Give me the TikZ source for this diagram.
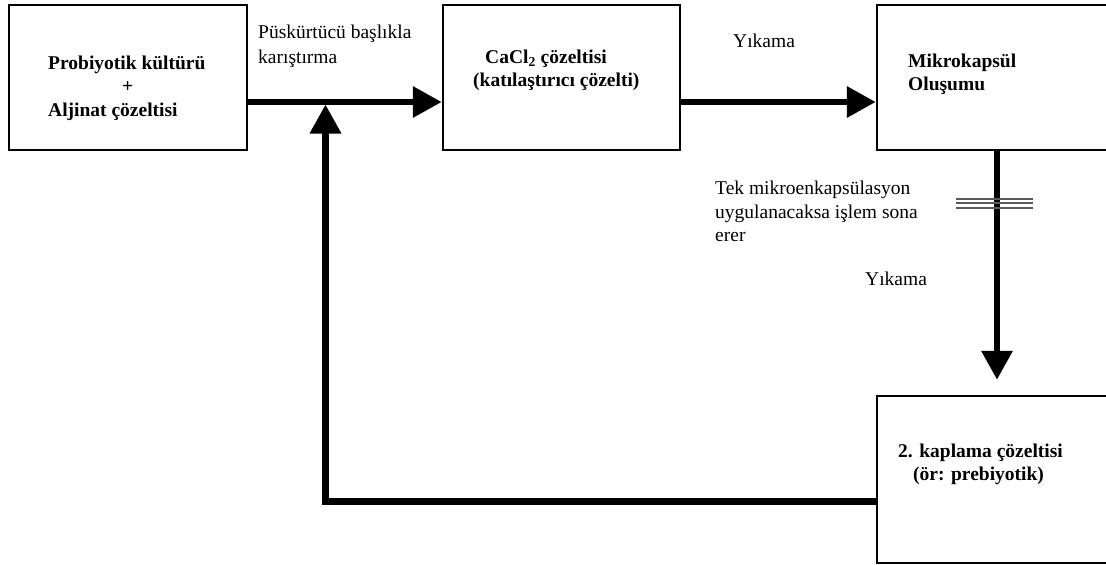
\documentclass[tikz,border=0pt]{standalone}
\usepackage{fontspec}
\setmainfont{Liberation Serif}
\usetikzlibrary{arrows.meta,positioning}

\begin{document}
\begin{tikzpicture}[
  x=1pt, y=-1pt,
  font=\fontsize{19.5}{23.5}\selectfont,
  box/.style={draw, line width=2.5pt, minimum height=145pt, inner sep=0pt},
  flow/.style={line width=6.5pt, -{Triangle[length=29pt, width=30pt]}},
  note/.style={align=left, inner sep=0pt, anchor=north west},
  boxtext/.style={note, font=\fontsize{19.5}{23.5}\selectfont\bfseries},
  cut/.style={line width=2pt, black!65}
]
\clip (0,0) rectangle (1106,565);

% process boxes
\node[box, minimum width=238pt] (alg) at (128,77.5) {};
\node[box, minimum width=237pt, right=193.5pt of alg] (cacl) {};
\node[box, minimum width=240pt, right=194.5pt of cacl] (kapsul) {};
\node[box, minimum width=240pt, minimum height=167pt, below=243.5pt of kapsul] (kaplama) {};

\node[boxtext] (algtext) at (48,55.5) {Probiyotik kültürü\\\hspace*{74pt}+\\Aljinat çözeltisi};
\node[boxtext] (cacltext) at (473,49.5) {\hspace*{12pt}CaCl\textsubscript{2} çözeltisi\\(katılaştırıcı çözelti)};
\node[boxtext] (kapsultext) at (908,53.5) {Mikrokapsül\\Oluşumu};
\node[boxtext] (kaplamatext) at (898,443.5) {2. kaplama çözeltisi\\\hspace*{15pt}(ör: prebiyotik)};

% connectors
\coordinate (mix) at (325.5,102);
\draw[flow] ([yshift=-24.5pt]alg.east) -- ([yshift=-24.5pt]cacl.west);
\draw[flow] ([yshift=-24.5pt]cacl.east) -- ([yshift=-24.5pt]kapsul.west);
\draw[flow, shorten >=15pt] (kapsul.south) -- (kaplama.north);
\draw[flow, shorten >=2.5pt] ([yshift=-22pt]kaplama.west) -| (mix);

% break mark on the second washing line
\coordinate (cutmark) at ([yshift=-51.75pt]kapsul.south);
\foreach \d in {-4.5,0,4.5}
  \draw[cut] ([xshift=-41pt,yshift=\d pt]cutmark) -- ([xshift=36pt,yshift=\d pt]cutmark);

% labels
\node[note] (spray) at (258,24.5) {Püskürtücü başlıkla\\[2pt]karıştırma};
\node[note] (wash1) at (733,33.5) {Yıkama};
\node[note] (single) at (715,181) {Tek mikroenkapsülasyon\\uygulanacaksa işlem sona\\erer};
\node[note] (wash2) at (865,271.5) {Yıkama};

\end{tikzpicture}
\end{document}
